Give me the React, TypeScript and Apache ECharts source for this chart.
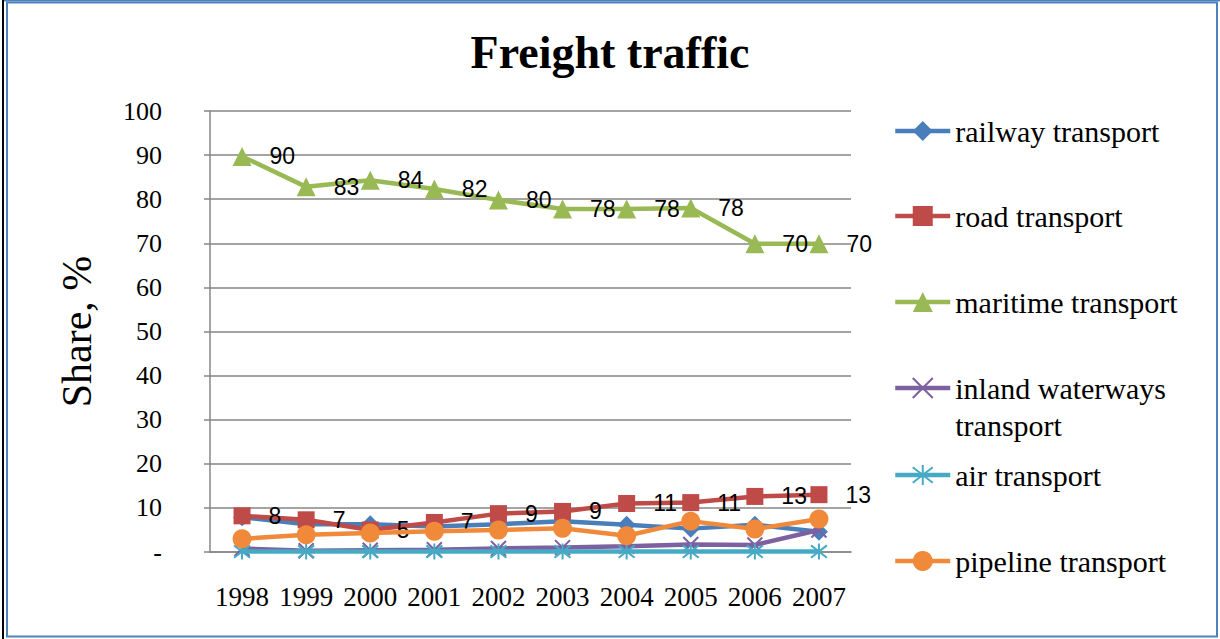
import React, { useEffect, useRef } from "react";
import * as echarts from "echarts";

const years = ["1998", "1999", "2000", "2001", "2002", "2003", "2004", "2005", "2006", "2007"];
const railway = [7.9, 6.3, 6.3, 5.8, 6.3, 7.0, 6.2, 5.3, 6.2, 4.6];
const road = [8.2, 7.3, 5.0, 6.7, 8.7, 9.2, 11.0, 11.2, 12.6, 13.0];
const maritime = [89.7, 82.8, 84.3, 82.3, 79.8, 77.8, 77.8, 78.0, 69.9, 69.9];
const inland = [0.8, 0.3, 0.4, 0.5, 0.8, 1.0, 1.3, 1.7, 1.6, 5.0];
const air = [0.1, 0.1, 0.1, 0.1, 0.1, 0.1, 0.1, 0.1, 0.1, 0.1];
const pipeline = [3.0, 3.9, 4.3, 4.7, 5.0, 5.4, 3.7, 7.0, 5.2, 7.5];

const names = [
  "railway transport",
  "road transport",
  "maritime transport",
  "inland waterways transport",
  "air transport",
  "pipeline transport",
];
const colors = ["#4A7EBB", "#BE4B48", "#98B954", "#7D60A0", "#46AAC5", "#F08A3A"];
const legendCenters = [131, 216, 302, 388, 475, 561];

const SERIF = "'Liberation Serif', 'Times New Roman', serif";
const SANS = "'Liberation Sans', Arial, sans-serif";

const crossPath = "path://M0,0L10,10M10,0L0,10";
const starPath = "path://M0,0L10,10M10,0L0,10M5,-1.5L5,11.5";

export default function App() {
  const ref = useRef<HTMLDivElement>(null);

  useEffect(() => {
    if (!ref.current) return;
    const chart = echarts.init(ref.current, null, { renderer: "svg" });

    const label = {
      show: true,
      position: "right",
      distance: 18,
      color: "#000",
      fontFamily: SANS,
      fontSize: 23,
      formatter: (p: any) => String(Math.round(p.value)),
    };

    const mk = (i: number, data: number[], symbol: string, size: number, extra: any = {}) => ({
      name: names[i],
      type: "line",
      data,
      symbol,
      symbolSize: size,
      color: colors[i],
      lineStyle: { width: 4.5, color: colors[i] },
      itemStyle: { color: colors[i], ...(extra.itemStyle || {}) },
      label: extra.label || { show: false },
      z: 2 + i,
    });

    const series = [
      mk(0, railway, "diamond", 18),
      mk(1, road, "rect", 17, { label }),
      mk(2, maritime, "triangle", 19, { label }),
      mk(3, inland, crossPath, 15, { itemStyle: { borderColor: colors[3], borderWidth: 2 } }),
      mk(4, air, starPath, 16, { itemStyle: { borderColor: colors[4], borderWidth: 2 } }),
      mk(5, pipeline, "circle", 19),
    ];

    const legends = names.map((n, i) => {
      const isInland = i === 3;
      const lh = isInland ? 37 : 32;
      const lines = isInland ? 3 : 1;
      return {
        data: [n],
        orient: "vertical",
        left: 893,
        top: legendCenters[i] - (lh * lines) / 2,
        padding: 0,
        itemWidth: 55,
        itemHeight: 25,
        itemGap: 0,
        selectedMode: false,
        lineStyle: { width: 4.5 },
        formatter: isInland ? () => "\ninland waterways\ntransport" : undefined,
        textStyle: {
          fontFamily: SERIF,
          fontSize: 30,
          color: "#000",
          lineHeight: lh,
        },
      };
    });

    chart.setOption({
      animation: false,
      backgroundColor: "#fff",
      title: {
        text: "Freight traffic",
        left: "center",
        top: 24,
        textStyle: {
          fontFamily: SERIF,
          fontSize: 46,
          fontWeight: "bold",
          color: "#000",
        },
      },
      legend: legends,
      grid: { left: 210, top: 111, width: 641, height: 441, containLabel: false },
      xAxis: {
        type: "category",
        data: years,
        boundaryGap: true,
        axisLine: { show: true, lineStyle: { color: "#868686", width: 1.5 } },
        axisTick: { show: false },
        axisLabel: {
          interval: 0,
          fontFamily: SERIF,
          fontSize: 27,
          color: "#000",
          margin: 31,
          hideOverlap: false,
        },
      },
      yAxis: {
        type: "value",
        min: 0,
        max: 100,
        interval: 10,
        name: "Share, %",
        nameLocation: "middle",
        nameRotate: 90,
        nameGap: 112,
        nameTextStyle: { fontFamily: SERIF, fontSize: 42, color: "#000" },
        axisLine: { show: true, lineStyle: { color: "#868686", width: 1.5 } },
        axisTick: { show: true, length: 6, lineStyle: { color: "#868686", width: 1.5 } },
        splitLine: { show: true, lineStyle: { color: "#868686", width: 1.5 } },
        axisLabel: {
          fontFamily: SERIF,
          fontSize: 26,
          color: "#000",
          margin: 48,
          formatter: (v: number) => (v === 0 ? "-" : String(v)),
        },
      },
      series,
      graphic: [
        {
          type: "rect",
          shape: { x: 7, y: 2.5, width: 1210, height: 634 },
          style: { fill: "none", stroke: "#4F81BD", lineWidth: 2 },
          silent: true,
        },
        {
          type: "line",
          shape: { x1: 2, y1: 0, x2: 1220, y2: 0 },
          style: { stroke: "#4F81BD", lineWidth: 3 },
          silent: true,
        },
        {
          type: "line",
          shape: { x1: 3, y1: 0, x2: 3, y2: 639 },
          style: { stroke: "#000", lineWidth: 2 },
          silent: true,
        },
      ],
    });

    return () => chart.dispose();
  }, []);

  return (
    <div
      ref={ref}
      style={{ position: "fixed", left: 0, top: 0, width: 1220, height: 639, background: "#fff" }}
    />
  );
}
